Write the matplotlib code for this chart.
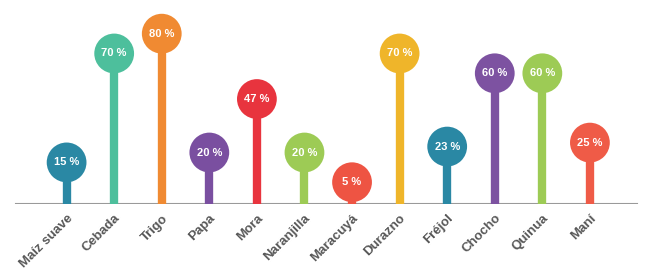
import matplotlib.pyplot as plt
import numpy as np

plt.rcParams['font.family'] = ['Liberation Sans', 'DejaVu Sans']

cultivos = ['Maíz suave', 'Cebada', 'Trigo', 'Papa', 'Mora', 'Naranjilla',
            'Maracuyá', 'Durazno', 'Fréjol', 'Chocho', 'Quinua', 'Maní']
valores = [15, 70, 80, 20, 47, 20, 5, 70, 23, 60, 60, 25]
colores = ['#2a88a4', '#4dbf9c', '#f08a32', '#7a4fa0', '#e8343e', '#9dcb55',
           '#ee5443', '#efb52a', '#2a88a4', '#7d52a1', '#9dcb55', '#ef5b47']

OFFSET = 6  # circle sits a bit above its value so small ones clear the baseline

fig = plt.figure(figsize=(6.47, 2.77), dpi=100)
ax = fig.add_axes([0.0, 0.2635, 1.0, 0.7365])

x = np.arange(len(cultivos))
tops = np.array(valores) + OFFSET

ax.vlines(x, 0, tops, colors=colores, linewidth=6, zorder=2)
ax.scatter(x, tops, s=820, c=colores, zorder=3, linewidths=0)
for xi, yi, v in zip(x, tops, valores):
    ax.text(xi, yi, f'{v} %', color='white', fontsize=8, fontweight='bold',
            ha='center', va='center', zorder=4)

ax.axhline(0, xmin=(-1.06 + 1.4) / 13.6, xmax=(11.98 + 1.4) / 13.6,
           color='#9a9a9a', linewidth=1.5, zorder=1)

ax.set_xlim(-1.4, 12.2)
ax.set_ylim(0, 103)
ax.set_xticks(x)
ax.set_xticklabels(cultivos, rotation=45, ha='right', rotation_mode='anchor',
                   fontsize=9.5, fontweight='bold', color='#575757')
ax.tick_params(axis='x', length=0, pad=6)
ax.set_yticks([])
for s in ax.spines.values():
    s.set_visible(False)

fig.savefig('out.png', dpi=100)
